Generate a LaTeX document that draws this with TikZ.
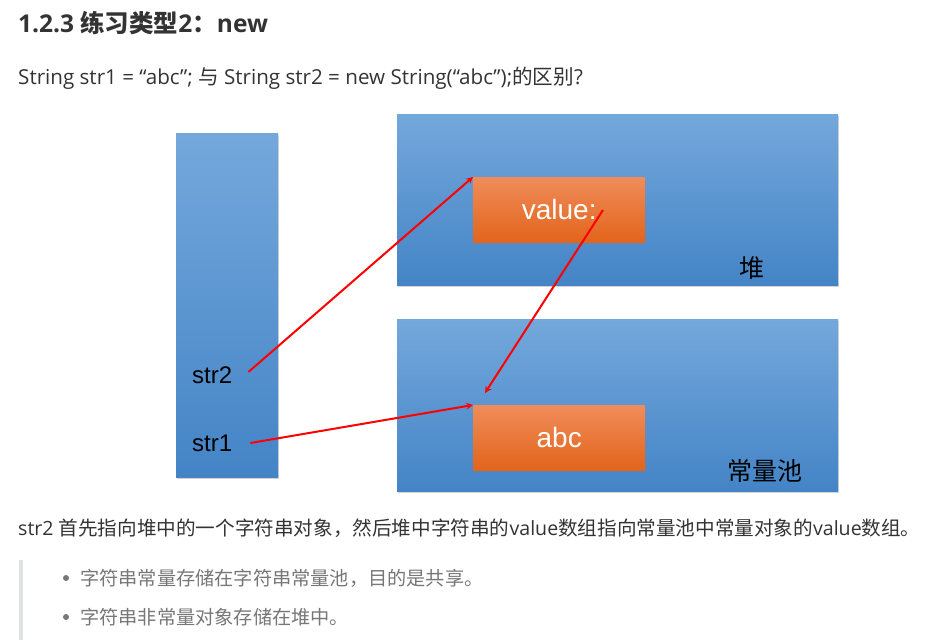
\documentclass[tikz,border=0pt]{standalone}
\usepackage{fontspec}
\setmainfont{Open Sans}
\newfontfamily\cjk{Noto Sans CJK SC}
\newfontfamily\diag{Liberation Sans}
\usetikzlibrary{shadows}
\definecolor{boxtop}{HTML}{74A8DC}
\definecolor{boxbot}{HTML}{4484C6}
\definecolor{ortop}{HTML}{F08C5A}
\definecolor{ormid}{HTML}{F27A26}
\definecolor{orbot}{HTML}{E2641B}
\definecolor{txt}{HTML}{333333}
\definecolor{subtxt}{HTML}{777777}
\definecolor{quotebar}{HTML}{DFE2E5}

\begin{document}
\begin{tikzpicture}[x=1pt, y=-1pt, >=stealth,
    bluebox/.style={top color=boxtop, bottom color=boxbot, inner sep=0pt, anchor=north west,
        drop shadow={opacity=0.35, shadow xshift=1pt, shadow yshift=-1.5pt}},
    orangebox/.style={top color=ortop, middle color=ormid, bottom color=orbot, inner sep=0pt,
        minimum width=172pt, minimum height=65pt, anchor=north west,
        drop shadow={opacity=0.3, shadow xshift=1pt, shadow yshift=-1.5pt},
        text=white, font=\diag\fontsize{28}{28}\selectfont},
    varlabel/.style={font=\diag\fontsize{24}{24}\selectfont, text=black, inner sep=0pt},
    arealabel/.style={font=\cjk\fontsize{25}{25}\selectfont, text=black, inner sep=0pt},
    pointer/.style={->, red, line width=2pt}]
    % 1. 画布大小
    \useasboundingbox (0,0) rectangle (937,640);

    % 2. 标题与问题
    \node[anchor=base west, inner sep=0pt, text=txt, font=\bfseries\fontsize{24.5}{24.5}\selectfont] (title)
        at (18,32) {1.2.3 {\cjk 练习类型}2{\cjk ：}new};
    \node[anchor=base west, inner sep=0pt, text=txt, font=\fontsize{20.6}{20.6}\selectfont] (question)
        at (18,84) {String str1 = “abc”; {\cjk 与} String str2 = new String(“abc”);{\cjk 的区别}?};

    % 3. 栈、堆、常量池
    \node[bluebox, minimum width=102pt, minimum height=344pt] (stack) at (176,133) {};
    \node[bluebox, minimum width=441pt, minimum height=171pt] (heap) at (397,114) {};
    \node[bluebox, minimum width=441pt, minimum height=172pt] (pool) at (397,319) {};

    \node[orangebox] (value) at (473,177) {value:};
    \node[orangebox] (abc) at (473,405) {abc};

    \node[varlabel, anchor=west] (str2) at (192,375) {str2};
    \node[varlabel, anchor=west] (str1) at (192,443) {str1};
    \node[arealabel] (heaplabel) at (752,268) {堆};
    \node[arealabel] (poollabel) at (765,471) {常量池};

    % 4. 引用关系
    \coordinate (valptr) at (603,210);
    \draw[pointer] ([xshift=16pt,yshift=3pt]str2.east) -- (value.north west);
    \draw[pointer] ([xshift=18pt]str1.east) -- (abc.north west);
    \draw[pointer] (valptr) -- ([shift={(12,-12)}]abc.north west);

    % 5. 说明文字
    \node[anchor=base west, inner sep=0pt, text=txt, font=\fontsize{19.6}{19.6}\selectfont] (note)
        at (18,535) {str2 {\cjk 首先指向堆中的一个字符串对象，然后堆中字符串的}value{\cjk 数组指向常量池中常量对象的}value{\cjk 数组。}};
    \fill[quotebar] (19,560) rectangle (23,640);
    \fill[subtxt] (66,578) circle (3pt);
    \fill[subtxt] (66,617) circle (3pt);
    \node[anchor=west, inner sep=0pt, text=subtxt, font=\cjk\fontsize{19.2}{19.2}\selectfont] (tip1)
        at (80,578) {字符串常量存储在字符串常量池，目的是共享。};
    \node[anchor=west, inner sep=0pt, text=subtxt, font=\cjk\fontsize{19.2}{19.2}\selectfont] (tip2)
        at (80,617) {字符串非常量对象存储在堆中。};
\end{tikzpicture}
\end{document}
